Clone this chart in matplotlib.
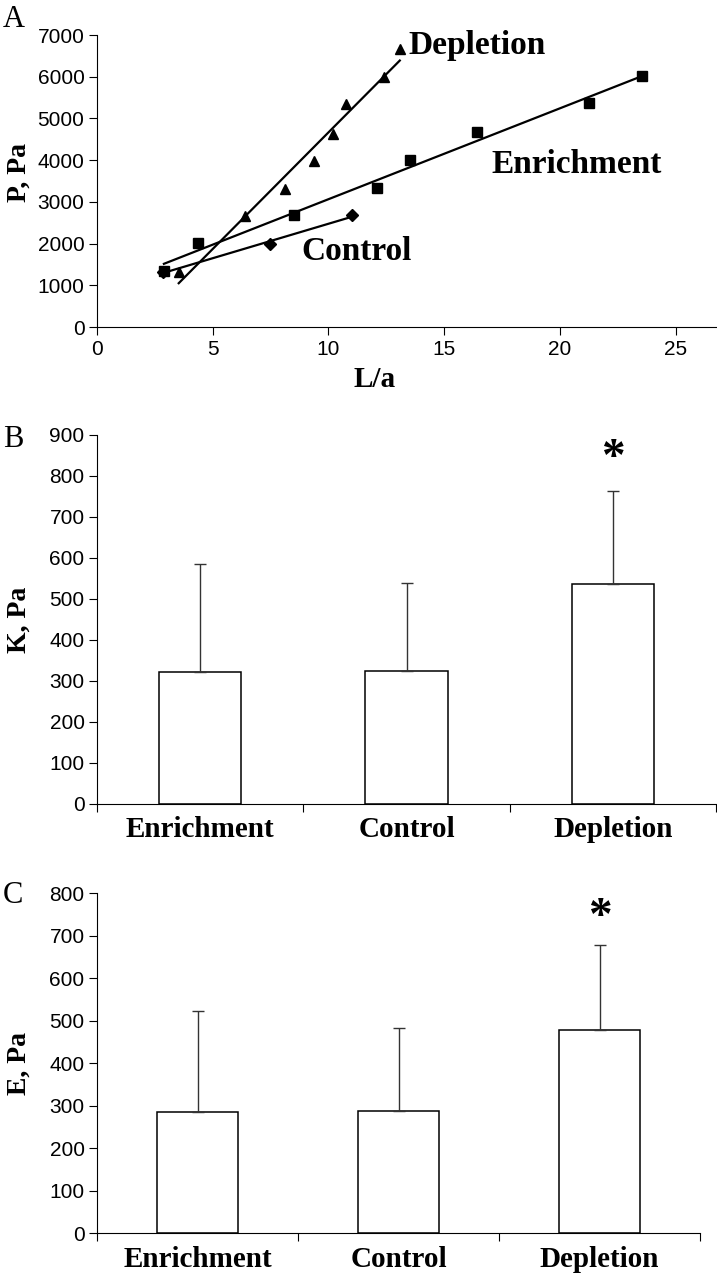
import numpy as np
import matplotlib
matplotlib.use('Agg')
import matplotlib.pyplot as plt

SERIF = 'Liberation Serif'
SANS = 'Liberation Sans'

# Panel A: aspiration pressure vs L/a for the three cholesterol conditions
dep_la = [3.53, 6.41, 8.13, 9.38, 10.19, 10.75, 12.41, 13.08]
dep_p = [1320, 2656, 3320, 3984, 4640, 5344, 6000, 6656]
enr_la = [2.89, 4.36, 8.49, 12.09, 13.54, 16.42, 21.27, 23.55]
enr_p = [1344, 2024, 2680, 3344, 4000, 4680, 5360, 6016]
ctl_la = [2.84, 7.49, 11.02]
ctl_p = [1320, 2000, 2680]

# Panels B and C: means with SD
groups = ['Enrichment', 'Control', 'Depletion']
k_mean = [321, 324, 536]
k_sd = [265, 216, 228]
e_mean = [285, 288, 478]
e_sd = [238, 194, 200]

plt.rcParams['font.family'] = SANS
plt.rcParams['axes.linewidth'] = 0.8


def style_axes(ax):
    ax.spines['top'].set_visible(False)
    ax.spines['right'].set_visible(False)
    ax.tick_params(direction='out', length=6, width=0.8, labelsize=15, pad=3)


def bar_panel(ax, means, sds, ymax, star_y, ylabel, lx):
    x = np.arange(len(groups))
    ax.bar(x, means, width=0.4, color='white', edgecolor='black', linewidth=1.1)
    ax.errorbar(x, means, yerr=[np.zeros(len(sds)), sds], fmt='none',
                ecolor='#333333', elinewidth=1.0, capsize=4, capthick=1.0)
    style_axes(ax)
    ax.set_xlim(-0.5, len(groups) - 0.5)
    ax.set_ylim(0, ymax)
    ax.set_yticks(np.arange(0, ymax + 1, 100))
    ax.set_xticks(np.arange(-0.5, len(groups), 1.0))
    ax.set_xticklabels([])
    ax.set_xticks(x, minor=True)
    ax.set_xticklabels(groups, minor=True, fontfamily=SERIF,
                       fontweight='bold', fontsize=21)
    ax.tick_params(axis='x', which='minor', length=0, pad=9)
    ax.text(2, star_y, '*', ha='center', va='center', fontfamily=SERIF,
            fontweight='bold', fontsize=34)
    ax.set_ylabel(ylabel, fontfamily=SERIF, fontweight='bold', fontsize=20)
    ax.yaxis.set_label_coords(lx, 0.5)


fig = plt.figure(figsize=(7.17, 12.8), dpi=100)

# --- A ---
ax = fig.add_axes([0.1353, 0.7445, 0.8633, 0.2281])
series = [(dep_la, dep_p, '^', 7.5), (enr_la, enr_p, 's', 7), (ctl_la, ctl_p, 'D', 6)]
for la, p, marker, ms in series:
    ax.plot(la, p, ls='none', marker=marker, color='black', ms=ms)
    slope, icpt = np.polyfit(la, p, 1)
    xx = np.array([min(la), max(la)])
    ax.plot(xx, slope * xx + icpt, color='black', lw=1.6)
style_axes(ax)
ax.set_xlim(0, 26.74)
ax.set_ylim(0, 7000)
ax.set_xticks(np.arange(0, 26, 5))
ax.set_yticks(np.arange(0, 7001, 1000))
lab = dict(fontfamily=SERIF, fontweight='bold', fontsize=24, va='baseline')
ax.text(13.47, 6545, 'Depletion', **lab)
ax.text(17.03, 3692, 'Enrichment', **lab)
ax.text(8.82, 1606, 'Control', **lab)
ax.set_ylabel('P, Pa', fontfamily=SERIF, fontweight='bold', fontsize=20)
ax.yaxis.set_label_coords(-0.105, 0.53)
ax.set_xlabel('L/a', fontfamily=SERIF, fontweight='bold', fontsize=21)
ax.xaxis.set_label_coords(0.449, -0.135)

# --- B ---
ax = fig.add_axes([0.1353, 0.3719, 0.8633, 0.2883])
bar_panel(ax, k_mean, k_sd, 900, 842, 'K, Pa', -0.105)

# --- C ---
ax = fig.add_axes([0.1353, 0.0367, 0.841, 0.2656])
bar_panel(ax, e_mean, e_sd, 800, 742, 'E, Pa', -0.108)

# panel letters
for letter, ytop in [('A', 5), ('B', 425), ('C', 881)]:
    fig.text(3 / 717, 1 - ytop / 1280, letter, ha='left', va='top',
             fontfamily=SERIF, fontsize=22)

fig.savefig('out.png', dpi=100)
